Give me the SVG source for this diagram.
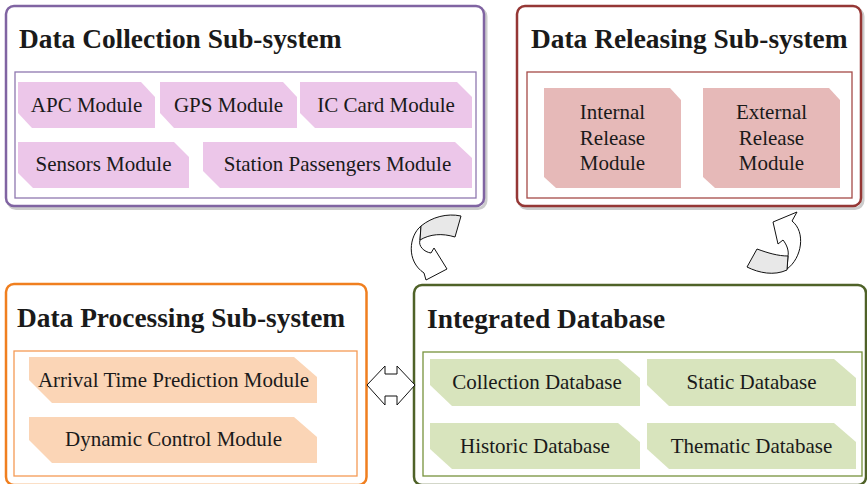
<svg xmlns="http://www.w3.org/2000/svg" width="867" height="484" viewBox="0 0 867 484">
  <style>
    .title { font-family: "Liberation Serif", "Times New Roman", serif; font-weight: bold; font-size: 27.4px; fill: #1a1a1a; }
    .label { font-family: "Liberation Serif", "Times New Roman", serif; font-size: 21px; fill: #1a1a1a; text-anchor: middle; }
    .shadow { fill: none; stroke: #cccccc; stroke-width: 3; }
    .outer { fill: #ffffff; stroke-width: 2.5; }
    .inner { fill: #ffffff; stroke-width: 1.3; }
    .mod-c { fill: #ecc6e9; }
    .mod-r { fill: #e6b9b8; }
    .mod-p { fill: #fbd5b6; }
    .mod-d { fill: #d8e4bd; }
    .band { fill: #e8e8e8; stroke: #111111; stroke-width: 1; stroke-linejoin: round; }
    .body { fill: #ffffff; stroke: #111111; stroke-width: 1; stroke-linejoin: round; }
  </style>

  <!-- Data Collection Sub-system -->
  <g id="data-collection">
    <rect class="shadow" x="8" y="8.5" width="478" height="200" rx="8"/>
    <rect class="outer" x="6" y="6" width="478" height="200" rx="8" stroke="#8064a2"/>
    <text class="title" x="19" y="48">Data Collection Sub-system</text>
    <rect class="inner" x="15" y="72" width="461" height="126" stroke="#8f78b0"/>
    <polygon class="mod-c" points="18,82 141,82 155,97 155,128 32,128 18,113"/>
    <text class="label" x="86.5" y="112">APC Module</text>
    <polygon class="mod-c" points="160,82 283,82 297,97 297,128 174,128 160,113"/>
    <text class="label" x="228.5" y="112">GPS Module</text>
    <polygon class="mod-c" points="300,82 457,82 472,97 472,128 315,128 300,113"/>
    <text class="label" x="386" y="112">IC Card Module</text>
    <polygon class="mod-c" points="18,142 174,142 189,157 189,188 33,188 18,173"/>
    <text class="label" x="103.5" y="171">Sensors Module</text>
    <polygon class="mod-c" points="203,142 455,142 472,158 472,188 220,188 203,171"/>
    <text class="label" x="337.5" y="171">Station Passengers Module</text>
  </g>

  <!-- Data Releasing Sub-system -->
  <g id="data-releasing">
    <rect class="shadow" x="519" y="8.5" width="344" height="200" rx="8"/>
    <rect class="outer" x="517" y="6" width="344" height="200" rx="8" stroke="#953735"/>
    <text class="title" x="531" y="48">Data Releasing Sub-system</text>
    <rect class="inner" x="527" y="72" width="325" height="126" stroke="#a54a47"/>
    <polygon class="mod-r" points="544,88 670,88 681,100 681,188 556,188 544,177"/>
    <text class="label" x="612.5" y="119">Internal<tspan x="612.5" dy="25.5">Release</tspan><tspan x="612.5" dy="25.5">Module</tspan></text>
    <polygon class="mod-r" points="703,88 829,88 840,100 840,188 715,188 703,177"/>
    <text class="label" x="771.5" y="119">External<tspan x="771.5" dy="25.5">Release</tspan><tspan x="771.5" dy="25.5">Module</tspan></text>
  </g>

  <!-- Data Processing Sub-system -->
  <g id="data-processing">
    <rect class="outer" x="6" y="284" width="360.5" height="201" rx="8" stroke="#f07f1f"/>
    <text class="title" x="17" y="327">Data Processing Sub-system</text>
    <rect class="inner" x="14" y="351" width="343" height="125" stroke="#f59a55"/>
    <polygon class="mod-p" points="29,357 294,357 317,377 317,403 52,403 29,380"/>
    <text class="label" x="173.5" y="387">Arrival Time Prediction Module</text>
    <polygon class="mod-p" points="29,417 294,417 317,437 317,463 52,463 29,440"/>
    <text class="label" x="173.5" y="446">Dynamic Control Module</text>
  </g>

  <!-- Integrated Database -->
  <g id="integrated-database">
    <rect class="outer" x="414" y="285" width="452" height="200" rx="8" stroke="#4f6228"/>
    <text class="title" x="427" y="328">Integrated Database</text>
    <rect class="inner" x="423" y="352" width="439" height="124" stroke="#77933c"/>
    <polygon class="mod-d" points="430,359 618,359 640,378 640,406 452,406 430,385"/>
    <text class="label" x="537" y="389">Collection Database</text>
    <polygon class="mod-d" points="647,359 834,359 856,378 856,406 669,406 647,385"/>
    <text class="label" x="751.5" y="389">Static Database</text>
    <polygon class="mod-d" points="430,423 618,423 640,442 640,469 452,469 430,449"/>
    <text class="label" x="535" y="453">Historic Database</text>
    <polygon class="mod-d" points="647,423 834,423 856,442 856,469 669,469 647,449"/>
    <text class="label" x="751.5" y="453">Thematic Database</text>
  </g>

  <!-- Connectors -->
  <g id="connectors">
    <!-- collection to database: curled arrow -->
    <path class="body" d="M421,226 C409,236 406,261 424,273 L426,280 L447,269 L434,248 L431,253 C424,252 418,246 420,240 Z"/>
    <path class="band" d="M421,226 C432,217 447,213 461,216 L455,237 C442,233 430,234 420,240 Z"/>
    <!-- database to releasing: curled arrow -->
    <path class="body" d="M787,269 C802,258 806,232 792,221 L797,212 L773,222 L778,244 L783,240 C787,245 789,251 788,256 Z"/>
    <path class="band" d="M757,249 C768,253 778,256 788,256 L787,270 C774,276 759,273 747,267 Z"/>
    <!-- processing to/from database -->
    <path class="body" d="M367,385 L385,366 L385,374 L397,374 L397,366 L415,385 L397,405 L397,396 L385,396 L385,405 Z"/>
  </g>
</svg>
